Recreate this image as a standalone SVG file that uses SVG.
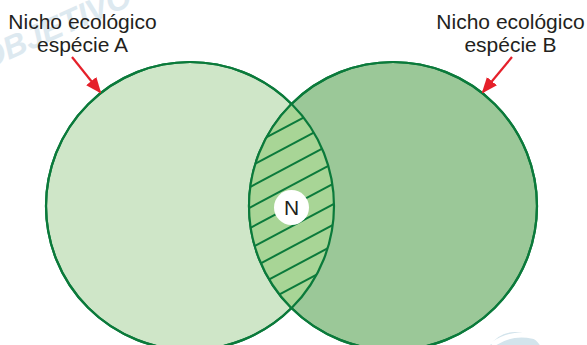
<svg xmlns="http://www.w3.org/2000/svg" width="587" height="345" viewBox="0 0 587 345">
  <style>
    .lbl { font-family: "Liberation Sans", Arial, sans-serif; font-size: 21px; fill: #231f20; text-anchor: middle; }
    .ring { stroke: #0b7a3b; stroke-width: 2.2; }
    .hatch line { stroke: #0b7a3b; stroke-width: 2; }
    .arrow { stroke: #e5202a; stroke-width: 2.2; fill: none; }
    .wm { font-family: "Liberation Sans", Arial, sans-serif; font-weight: bold; font-style: italic; font-size: 32px; fill: #dde9f0; }
  </style>
  <defs>
    <marker id="ah" viewBox="0 -7 16 14" refX="14" refY="0" markerWidth="16" markerHeight="14" markerUnits="userSpaceOnUse" orient="auto">
      <path d="M0,-6.5 L16,0 L0,6.5 Z" fill="#e5202a"/>
    </marker>
    <clipPath id="clipA">
      <circle cx="190" cy="206" r="144"/>
    </clipPath>
    <clipPath id="clipB">
      <circle cx="393" cy="206" r="144"/>
    </clipPath>
  </defs>

  <rect width="587" height="345" fill="#ffffff"/>

  <!-- faint watermark -->
  <g id="watermark">
    <text class="wm" transform="translate(-14,70) rotate(-24)">OBJETIVO</text>
    <circle cx="515" cy="362" r="30" fill="#d3e4ec"/>
    <path d="M492,345 Q515,328 545,340" stroke="#ffffff" stroke-width="5" fill="none"/>
  </g>

  <g id="nicheA">
    <circle class="ring" cx="190" cy="206" r="144" fill="#cfe6c8"/>
  </g>
  <g id="nicheB">
    <circle class="ring" cx="393" cy="206" r="144" fill="#9bc898"/>
  </g>

  <g id="overlap">
    <g clip-path="url(#clipA)">
      <g clip-path="url(#clipB)">
        <rect x="240" y="90" width="110" height="230" fill="#a8d596"/>
        <g class="hatch">
          <line x1="230" y1="156.6" x2="350" y2="93"/>
          <line x1="230" y1="177.1" x2="350" y2="113.5"/>
          <line x1="230" y1="197.6" x2="350" y2="134"/>
          <line x1="230" y1="218.1" x2="350" y2="154.5"/>
          <line x1="230" y1="238.6" x2="350" y2="175"/>
          <line x1="230" y1="259.1" x2="350" y2="195.5"/>
          <line x1="230" y1="279.6" x2="350" y2="216"/>
          <line x1="230" y1="300.1" x2="350" y2="236.5"/>
          <line x1="230" y1="320.6" x2="350" y2="257"/>
        </g>
      </g>
    </g>
    <circle class="ring" cx="190" cy="206" r="144" fill="none"/>
    <circle class="ring" cx="393" cy="206" r="144" fill="none"/>
  </g>

  <g id="nodeN">
    <circle cx="291.5" cy="207.5" r="17.5" fill="#ffffff"/>
    <text class="lbl" x="291.5" y="215" font-size="20">N</text>
  </g>

  <g id="labelA">
    <text class="lbl" x="82.5" y="29">Nicho ecológico</text>
    <text class="lbl" x="82.5" y="52">espécie A</text>
  </g>
  <g id="labelB">
    <text class="lbl" x="510.5" y="29">Nicho ecológico</text>
    <text class="lbl" x="510.5" y="52">espécie B</text>
  </g>

  <g id="connectors">
    <line class="arrow" x1="72" y1="57" x2="100" y2="92" marker-end="url(#ah)"/>
    <line class="arrow" x1="512" y1="57" x2="483" y2="92" marker-end="url(#ah)"/>
  </g>
</svg>
